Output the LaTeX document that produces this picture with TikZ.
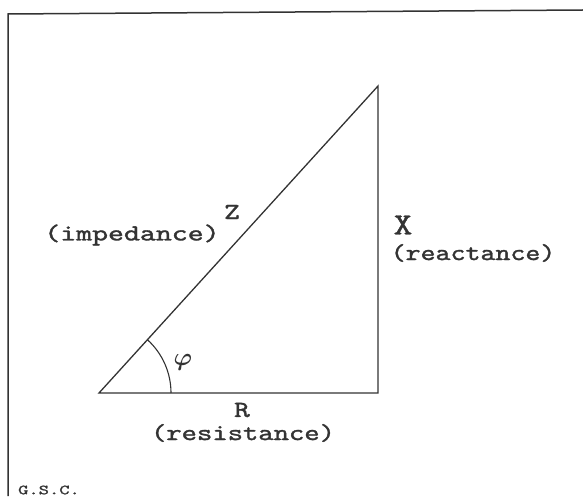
\documentclass[tikz,border=0pt]{standalone}
\usepackage{amsmath}
\usepackage{fontspec}
\usetikzlibrary{angles}
\definecolor{ink}{HTML}{333333}
\newfontfamily\labfont[FakeBold=1.3]{lmmono10-regular.otf}
\newcommand{\wide}[2][1.25]{\scalebox{#1}[1]{#2}}
\tikzset{
  edge/.style={draw=ink, line width=1.3pt},
  lab/.style={text=ink, font=\labfont\fontsize{23}{23}\selectfont, inner sep=0pt},
  biglab/.style={text=ink, font=\labfont\fontsize{31}{31}\selectfont, inner sep=0pt},
}
\begin{document}
\begin{tikzpicture}[x=1pt,y=1pt]
\useasboundingbox (0,0) rectangle (583,496);
% frame (only left and top edges visible)
\coordinate (fb) at (8,0);
\coordinate (ftl) at (8,482);
\coordinate (ftr) at (583,486);
\draw[edge, line width=1.5pt] (fb) -- (ftl) -- (ftr);
% triangle
\coordinate (A) at (99,103);
\coordinate (B) at (378,103);
\coordinate (C) at (378,410);
\draw[edge] (A) -- (B) -- (C) -- cycle;
\pic[draw=ink, line width=1.1pt, angle radius=72pt] {angle = B--A--C};
% labels
\node[lab] (z) at (232,284) {\wide[1.3]{Z}};
\node[lab] (zi) at (132,261) {\wide[1.32]{(impedance)}};
\node[biglab] (x) at (403,271) {\wide[1.15]{X}};
\node[lab] (xr) at (473,243) {\wide[1.24]{(reactance)}};
\node[lab] (r) at (242,86) {\wide[1.3]{R}};
\node[lab] (rr) at (243,63) {\wide[1.27]{(resistance)}};
\node[text=ink, inner sep=0pt, font=\fontsize{38}{38}\selectfont] (phi) at (183,134) {$\boldsymbol{\varphi}$};
\node[text=ink, inner sep=0pt, font=\labfont\fontsize{14}{14}\selectfont] (gsc) at (49,6) {\wide[1.4]{G.S.C.}};
\end{tikzpicture}
\end{document}
